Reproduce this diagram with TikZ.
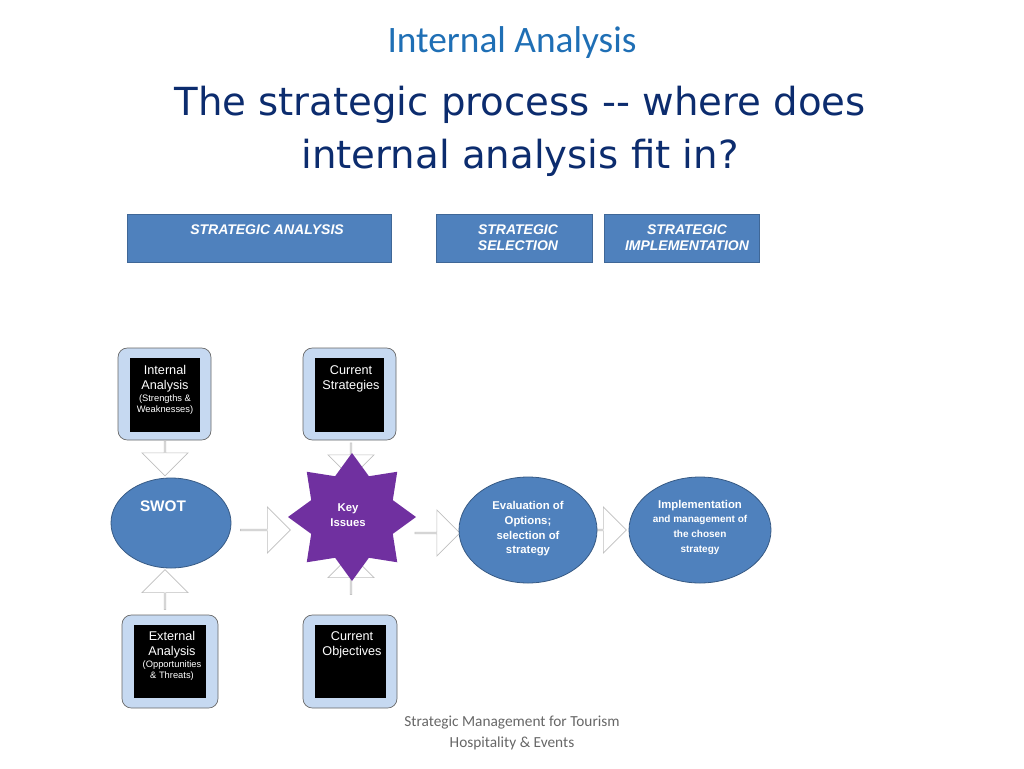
\documentclass[tikz,border=0pt]{standalone}
\usepackage{fontspec}
\setmainfont{Liberation Sans}
\newfontfamily\calib{Carlito}
\newfontfamily\dvs{DejaVu Sans}
\usetikzlibrary{shapes.geometric,shapes.arrows}
\definecolor{hdr}{HTML}{4F81BD}
\definecolor{ttl}{HTML}{1F6FB5}
\definecolor{navy}{HTML}{0C2C6E}
\definecolor{lb}{HTML}{C6D9F1}
\definecolor{purp}{HTML}{7030A0}
\begin{document}
\begin{tikzpicture}[x=0.75pt,y=-0.75pt,
  hbox/.style={fill=hdr,draw=hdr!80!black,line width=0.4pt},
  htext/.style={text=white,font=\fontsize{10.5}{12}\selectfont\bfseries\itshape,align=center},
  outer/.style={fill=lb,draw=black!60,rounded corners=7pt,line width=0.5pt},
  inner/.style={fill=black},
  wt/.style={text=white,align=center,font=\fontsize{9.5}{11}\selectfont},
  blk/.style={single arrow,draw=black!25,fill=white,line width=0.5pt,single arrow head extend=8pt,minimum width=46*0.75pt,inner sep=0pt},
  ell/.style={ellipse,fill=hdr,draw=hdr!70!black,line width=0.6pt,inner sep=0pt},
  et/.style={text=white,align=center,font=\fontsize{8.5}{11}\selectfont\bfseries}]
\useasboundingbox (0,0) rectangle (1024,768);
\node[text=ttl,font=\calib\fontsize{28}{30}\selectfont] (t1) at (512,43) {Internal Analysis};
\node[text=navy,font=\dvs\fontsize{29}{40}\selectfont,align=center] (t2) at (520,131) {The strategic process -- where does\\internal analysis fit in?};
% headers
\fill[hbox] (127,214) rectangle (391,262);
\node[htext] (h1) at (267,230) {STRATEGIC ANALYSIS};
\fill[hbox] (436,214) rectangle (592,262);
\node[htext] (h2) at (518,238) {STRATEGIC\\SELECTION};
\fill[hbox] (604,214) rectangle (759,262);
\node[htext] (h3) at (687,238) {STRATEGIC\\IMPLEMENTATION};
% boxes
\draw[outer] (118,348) rectangle (211,440);
\fill[inner] (130,358) rectangle (200,432);
\node[wt,anchor=north] (ia) at (165,361) {Internal\\Analysis\\[-2pt]{\fontsize{7}{9}\selectfont (Strengths \&}\\[-3pt]{\fontsize{7}{9}\selectfont Weaknesses)}};
\draw[outer] (303,348) rectangle (396,440);
\fill[inner] (315,358) rectangle (384,432);
\node[wt,anchor=north] (cs) at (351,361) {Current\\Strategies};
\draw[outer] (122,615) rectangle (218,708);
\fill[inner] (134,625) rectangle (206,698);
\node[wt,anchor=north] (ea) at (172,627) {External\\Analysis\\[-2pt]{\fontsize{7}{9}\selectfont (Opportunities}\\[-3pt]{\fontsize{7}{9}\selectfont \& Threats)}};
\draw[outer] (303,615) rectangle (397,708);
\fill[inner] (315,625) rectangle (386,698);
\node[wt,anchor=north] (co) at (352,627) {Current\\Objectives};
% arrows
\node[blk,rotate=-90,minimum height=35*0.75pt] (a1) at (165,458) {};
\node[blk,rotate=-90,minimum height=35*0.75pt] (a2) at (351,460) {};
\node[blk,rotate=90,minimum height=40*0.75pt] (a3) at (165,590) {};
\node[blk,rotate=90,minimum height=40*0.75pt] (a4) at (351,575) {};
\node[blk,minimum height=50*0.75pt] (a5) at (265,530) {};
\node[blk,minimum height=45*0.75pt] (a6) at (437,533) {};
\node[blk,minimum height=40*0.75pt] (a7) at (606,530) {};
% shapes
\node[ell,minimum width=120*0.75pt,minimum height=90*0.75pt] (swot) at (171,523) {};
\node[text=white,font=\fontsize{11.5}{13}\selectfont\bfseries] (swt) at (163,506) {SWOT};
\node[star,star points=8,star point ratio=1.45,fill=purp,minimum size=128*0.75pt,inner sep=0pt,rotate=0] (key) at (352,517) {};
\node[et] (kt) at (348,515) {Key\\Issues};
\node[ell,minimum width=138*0.75pt,minimum height=106*0.75pt] (ev) at (528,530) {};
\node[et] (evt) at (528,529) {Evaluation of\\Options;\\selection of\\strategy};
\node[ell,minimum width=142*0.75pt,minimum height=106*0.75pt] (im) at (700,530) {};
\node[et,font=\fontsize{8.5}{11}\selectfont\bfseries] (imt) at (700,527) {Implementation\\{\fontsize{7.5}{9}\selectfont and management of}\\{\fontsize{7.5}{9}\selectfont the chosen}\\{\fontsize{7.5}{9}\selectfont strategy}};
% footer
\node[text=black!60,font=\calib\fontsize{11.5}{15.5}\selectfont,align=center] (ft) at (512,733) {Strategic Management for Tourism\\Hospitality \& Events};
\end{tikzpicture}
\end{document}
